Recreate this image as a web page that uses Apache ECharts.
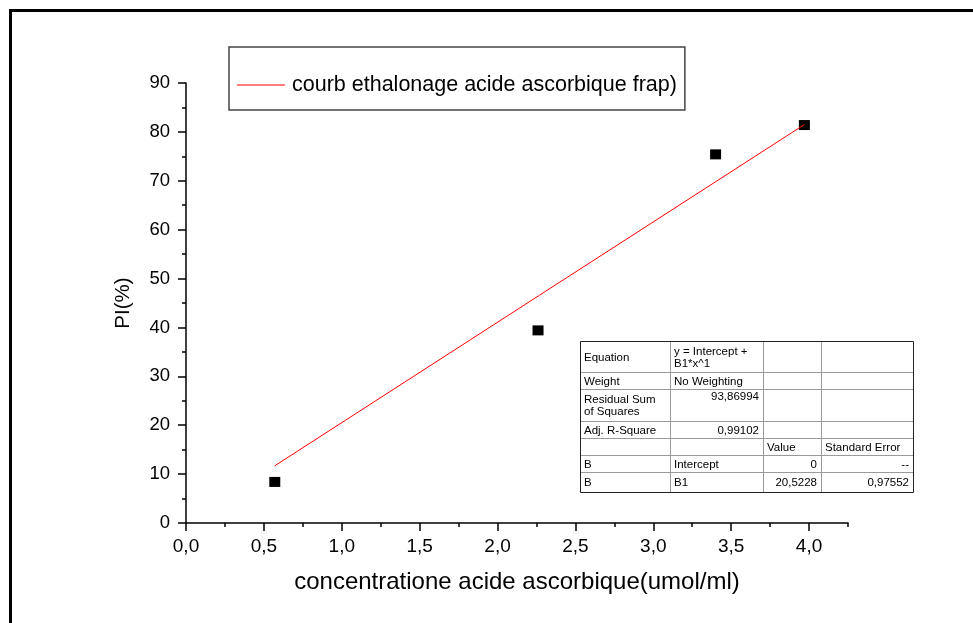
<!DOCTYPE html>
<html><head><meta charset="utf-8">
<script src="https://cdn.jsdelivr.net/npm/echarts@6/dist/echarts.min.js"></script>
<style>html,body{margin:0;padding:0;background:#fff}#c{width:973px;height:623px}</style>
</head><body><div id="c"></div>
<script>
// ---- data ----
const xValues = [0.57, 2.26, 3.40, 3.97];
const yValues = [8.4, 39.4, 75.4, 81.4];
const fitX = [0.57, 3.97];
const fitY = [11.7, 81.5];
const seriesName = 'courb ethalonage acide ascorbique frap)';
const xTitle = 'concentratione acide ascorbique(umol/ml)';
const yTitle = 'PI(%)';
const xMajorTicks = [0, 0.5, 1, 1.5, 2, 2.5, 3, 3.5, 4];
const tableCol1 = ['Equation', 'Weight', 'Residual Sum\nof Squares', 'Adj. R-Square', '', 'B', 'B'];
const tableCol2 = ['y = Intercept +\nB1*x^1', 'No Weighting', '93,86994', '0,99102', '', 'Intercept', 'B1'];
const tableCol3 = ['', '', '', '', 'Value', '0', '20,5228'];
const tableCol4 = ['', '', '', '', 'Standard Error', '--', '0,97552'];

// ---- layout ----
const FONT = 'Liberation Sans, Arial, sans-serif';
const colX = [580, 670, 763, 821, 913];
const rowY = [341, 372, 389, 421, 438, 455, 472, 492];
// alignment per column/row: 'l' left-middle, 'r' right-middle, 'rt' right-top
const alignCol2 = ['l', 'l', 'rt', 'r', 'l', 'l', 'l'];
const alignCol3 = ['r', 'r', 'r', 'r', 'l', 'r', 'r'];
const alignCol4 = ['r', 'r', 'r', 'r', 'l', 'r', 'r'];

const fmt = v => v.toFixed(1).replace('.', ',');

const tableEls = [];
tableEls.push({type: 'rect', shape: {x: colX[0], y: rowY[0], width: colX[4] - colX[0], height: rowY[7] - rowY[0]},
  style: {fill: '#fff', stroke: 'none'}, z: 100});
for (let i = 1; i < rowY.length - 1; i++) {
  tableEls.push({type: 'line', shape: {x1: colX[0], y1: rowY[i] + 0.5, x2: colX[4], y2: rowY[i] + 0.5},
    style: {stroke: '#9a9a9a', lineWidth: 1}, z: 101});
}
for (let j = 1; j < colX.length - 1; j++) {
  tableEls.push({type: 'line', shape: {x1: colX[j] + 0.5, y1: rowY[0], x2: colX[j] + 0.5, y2: rowY[7]},
    style: {stroke: '#9a9a9a', lineWidth: 1}, z: 101});
}
tableEls.push({type: 'rect', shape: {x: colX[0] + 0.5, y: rowY[0] + 0.5, width: colX[4] - colX[0], height: rowY[7] - rowY[0]},
  style: {fill: 'none', stroke: '#222', lineWidth: 1}, z: 102});
const cols = [tableCol1, tableCol2, tableCol3, tableCol4];
const aligns = [tableCol1.map(() => 'l'), alignCol2, alignCol3, alignCol4];
cols.forEach((col, c) => {
  col.forEach((txt, r) => {
    if (!txt) return;
    const a = aligns[c][r];
    const right = a[0] === 'r';
    const top = a === 'rt';
    tableEls.push({type: 'text', z: 103,
      x: right ? colX[c + 1] - 4 : colX[c] + 4,
      y: top ? rowY[r] + 2 : (rowY[r] + rowY[r + 1]) / 2 + 1,
      style: {text: txt, fontSize: 11.5, fontFamily: FONT, fill: '#000', lineHeight: 12,
        align: right ? 'right' : 'left', verticalAlign: top ? 'top' : 'middle'}});
  });
});

const chart = echarts.init(document.getElementById('c'), null, {renderer: 'canvas'});
chart.setOption({
  backgroundColor: '#fff',
  animation: false,
  grid: {left: 186, top: 83, right: 125, bottom: 100, containLabel: false},
  legend: {
    data: [{name: seriesName, icon: 'rect'}], left: 229, top: 47,
    borderColor: '#444', borderWidth: 1.5, padding: [27, 8, 14, 8],
    itemWidth: 48, itemHeight: 1,
    textStyle: {fontSize: 21.5, fontFamily: FONT, color: '#000', padding: [0, 0, 0, 2]}
  },
  xAxis: [{
    type: 'value', min: 0, max: 4.25, interval: 0.5, position: 'bottom',
    name: xTitle, nameLocation: 'middle', nameGap: 47,
    nameTextStyle: {fontSize: 24, fontFamily: FONT, color: '#000'},
    axisLine: {onZero: false, lineStyle: {color: '#000', width: 1.5}},
    axisTick: {customValues: xMajorTicks, length: 8, lineStyle: {color: '#000', width: 1.5}},
    axisLabel: {customValues: xMajorTicks, formatter: fmt, fontSize: 19, fontFamily: FONT, color: '#000', margin: 14},
    splitLine: {show: false}
  }, {
    type: 'value', min: 0, max: 4.25, interval: 0.25, position: 'bottom',
    axisLine: {show: false, onZero: false},
    axisTick: {length: 4, lineStyle: {color: '#000', width: 1.5}},
    axisLabel: {show: false},
    splitLine: {show: false}
  }],
  yAxis: {
    type: 'value', min: 0, max: 90, interval: 10,
    name: yTitle, nameLocation: 'middle', nameGap: 52, nameRotate: 90,
    nameTextStyle: {fontSize: 20.5, fontFamily: FONT, color: '#000'},
    axisLine: {show: true, onZero: false, lineStyle: {color: '#000', width: 1.5}},
    axisTick: {show: true, length: 8, lineStyle: {color: '#000', width: 1.5}},
    minorTick: {show: true, splitNumber: 2, length: 4, lineStyle: {color: '#000', width: 1.5}},
    axisLabel: {fontSize: 18.5, fontFamily: FONT, color: '#000', margin: 16},
    splitLine: {show: false}, minorSplitLine: {show: false}
  },
  series: [{
    name: 'data', type: 'scatter', symbol: 'rect', symbolSize: [11, 10],
    itemStyle: {color: '#000', opacity: 1}, data: xValues.map((x, i) => [x, yValues[i]]), z: 3
  }, {
    name: seriesName, type: 'line', symbol: 'none', silent: true,
    lineStyle: {color: '#ff0000', width: 1}, itemStyle: {color: '#ff0000'},
    data: fitX.map((x, i) => [x, fitY[i]]), z: 4
  }],
  graphic: [
    {type: 'rect', shape: {x: 10.5, y: 10.5, width: 1200, height: 900}, style: {fill: 'none', stroke: '#000', lineWidth: 3}, z: 200},
    ...tableEls
  ]
});
</script></body></html>
